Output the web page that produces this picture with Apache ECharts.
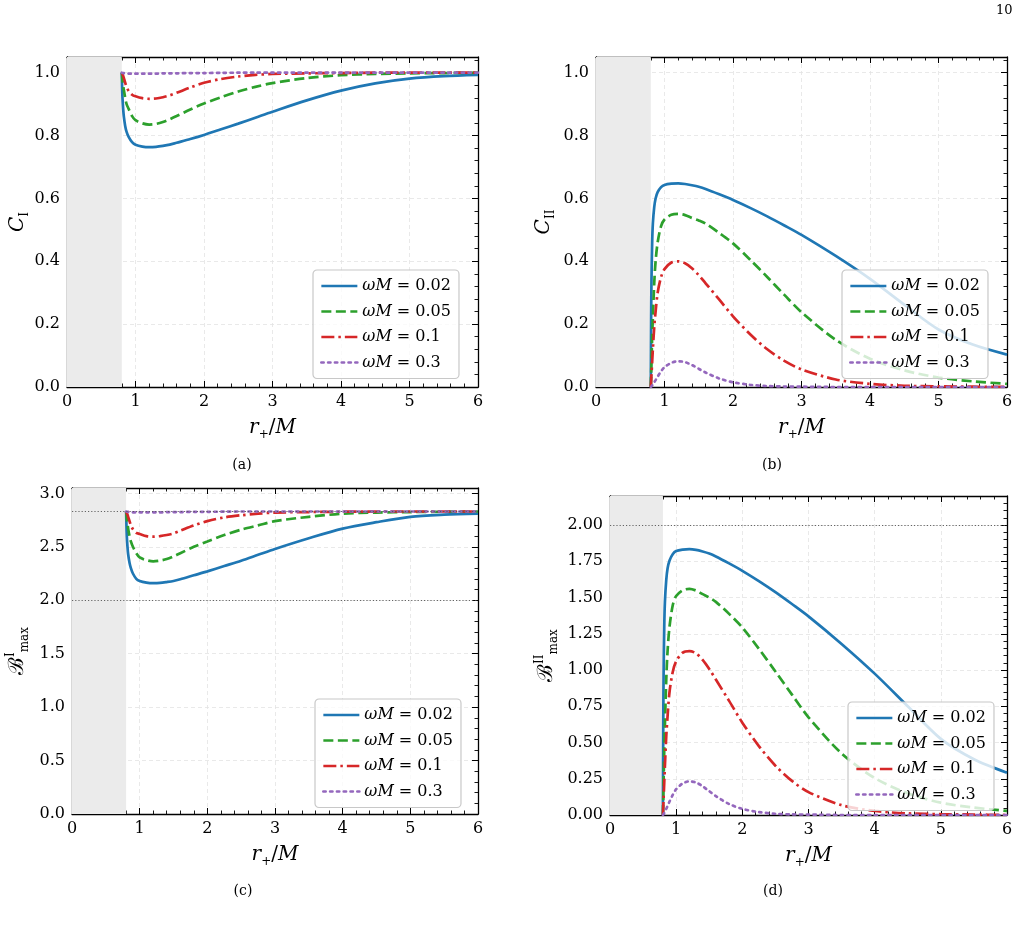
<!DOCTYPE html>
<html><head><meta charset="utf-8">
<script src="https://cdn.jsdelivr.net/npm/echarts@6/dist/echarts.min.js"></script>
<style>html,body{margin:0;padding:0;background:#fff}#c{width:1023px;height:928px}</style>
</head><body><div id="c"></div>
<script>
// ---- data ----
const XS = [0.8,0.805,0.81,0.82,0.83,0.85,0.87,0.9,0.95,1.0,1.1,1.2,1.3,1.4,1.5,1.6,1.8,2.0,2.25,2.5,2.75,3.0,3.5,4.0,4.5,5.0,5.5,6.0];
const SERIES_NAMES = ['0.02','0.05','0.1','0.3'];

// (a) C_I
const CI_002 = [1.0,0.95,0.92,0.885,0.86,0.83,0.812,0.796,0.779,0.771,0.765,0.763,0.764,0.767,0.771,0.777,0.789,0.802,0.82,0.838,0.857,0.876,0.912,0.943,0.966,0.981,0.989,0.993];
const CI_005 = [1.0,0.99,0.975,0.96,0.945,0.92,0.9,0.885,0.862,0.849,0.839,0.835,0.837,0.843,0.852,0.862,0.883,0.902,0.922,0.94,0.955,0.967,0.983,0.992,0.996,0.998,0.999,1.0];
const CI_01  = [1.0,0.998,0.995,0.99,0.983,0.968,0.955,0.942,0.93,0.925,0.919,0.917,0.918,0.922,0.928,0.936,0.953,0.968,0.98,0.988,0.993,0.996,0.998,0.999,1.0,1.0,1.0,1.0];
const CI_03  = [1.0,1.0,0.9995,0.999,0.999,0.998,0.998,0.997,0.997,0.997,0.997,0.997,0.997,0.998,0.998,0.998,0.999,0.999,0.9995,1.0,1.0,1.0,1.0,1.0,1.0,1.0,1.0,1.0];

// (b) C_II
const CII_002 = [0,0.22,0.34,0.46,0.52,0.572,0.6,0.62,0.636,0.643,0.647,0.648,0.646,0.642,0.637,0.63,0.613,0.595,0.57,0.543,0.514,0.484,0.417,0.344,0.262,0.183,0.135,0.103];
const CII_005 = [0,0.04,0.08,0.16,0.22,0.33,0.4,0.46,0.512,0.533,0.548,0.551,0.547,0.538,0.53,0.52,0.49,0.457,0.405,0.35,0.293,0.238,0.15,0.09,0.053,0.03,0.018,0.01];
const CII_01  = [0,0.02,0.04,0.08,0.12,0.19,0.24,0.3,0.35,0.375,0.396,0.4,0.394,0.378,0.356,0.33,0.278,0.225,0.168,0.12,0.083,0.056,0.024,0.01,0.004,0.002,0.001,0];
const CII_03  = [0,0.001,0.002,0.005,0.008,0.015,0.022,0.033,0.05,0.063,0.077,0.082,0.079,0.07,0.058,0.046,0.027,0.015,0.007,0.003,0.0015,0.001,0,0,0,0,0,0];

// (c) B^I_max
const BI_002 = [2.83,2.69,2.6,2.5,2.43,2.35,2.3,2.25,2.2,2.18,2.165,2.16,2.162,2.17,2.18,2.196,2.233,2.27,2.32,2.37,2.425,2.48,2.58,2.67,2.73,2.78,2.8,2.81];
const BI_005 = [2.83,2.8,2.76,2.72,2.67,2.6,2.55,2.5,2.44,2.4,2.375,2.363,2.37,2.385,2.41,2.44,2.5,2.55,2.61,2.66,2.7,2.74,2.78,2.81,2.82,2.825,2.828,2.83];
const BI_01  = [2.83,2.825,2.815,2.8,2.78,2.74,2.7,2.665,2.63,2.62,2.6,2.595,2.6,2.61,2.625,2.65,2.7,2.74,2.775,2.795,2.81,2.82,2.825,2.828,2.83,2.83,2.83,2.83];
const BI_03  = [2.83,2.83,2.829,2.827,2.827,2.825,2.825,2.822,2.822,2.822,2.822,2.822,2.822,2.825,2.825,2.825,2.827,2.827,2.829,2.83,2.83,2.83,2.83,2.83,2.83,2.83,2.83,2.83];

// (d) B^II_max
const BII_002 = [0,0.62,0.96,1.3,1.47,1.62,1.7,1.755,1.8,1.82,1.83,1.833,1.828,1.817,1.803,1.783,1.735,1.684,1.613,1.537,1.455,1.37,1.18,0.975,0.75,0.525,0.385,0.292];
const BII_005 = [0,0.11,0.23,0.45,0.62,0.93,1.13,1.3,1.45,1.51,1.55,1.56,1.548,1.523,1.5,1.47,1.387,1.293,1.146,0.99,0.83,0.674,0.425,0.255,0.15,0.085,0.051,0.028];
const BII_01  = [0,0.057,0.113,0.226,0.34,0.54,0.68,0.85,0.99,1.06,1.12,1.13,1.115,1.07,1.007,0.934,0.787,0.637,0.475,0.34,0.235,0.158,0.068,0.028,0.011,0.006,0.003,0];
const BII_03  = [0,0.003,0.006,0.014,0.023,0.042,0.062,0.093,0.14,0.178,0.218,0.232,0.224,0.198,0.164,0.13,0.076,0.042,0.02,0.0085,0.004,0.003,0,0,0,0,0,0];

// reference lines and excluded region
const REF_C = [2.0, 2.828];
const REF_D = [2.0];
const SHADE = [0, 0.8];

const X_TICKS = [0,1,2,3,4,5,6];
const Y_A = {min:0, max:1.05, interval:0.2, dec:1};
const Y_C = {min:0, max:3.05, interval:0.5, dec:1};
const Y_D = {min:0, max:2.2, interval:0.25, dec:2};

// ---- styling ----
const FONT = 'DejaVu Serif';
const COLORS = ['#1f77b4','#2ca02c','#d62728','#9467bd'];
const DASH = ['solid',[10,4.5],[13,4,2.5,4],[2.3,4.5]];
const CAP = ['butt','butt','butt','round'];

const panels = [
  {grid:{left:67,top:57,width:411,height:330}, y:Y_A, data:[CI_002,CI_005,CI_01,CI_03],
   yname:'{i|C}{s|I}', ygap:36, legend:{left:313,top:270}, refs:[]},
  {grid:{left:596,top:57,width:411,height:330}, y:Y_A, data:[CII_002,CII_005,CII_01,CII_03],
   yname:'{i|C}{s|II}', ygap:39, legend:{left:842,top:270}, refs:[]},
  {grid:{left:72,top:488,width:406,height:326}, y:Y_C, data:[BI_002,BI_005,BI_01,BI_03],
   yname:'{b|ℬ}{p|I}{s|max}', ygap:41, legend:{left:315,top:699}, refs:REF_C},
  {grid:{left:610,top:496,width:397,height:319}, y:Y_D, data:[BII_002,BII_005,BII_01,BII_03],
   yname:'{b|ℬ}{p|II}{s|max}', ygap:50, legend:{left:848,top:702}, refs:REF_D},
];

const nameRich = {
  i:{fontFamily:FONT, fontStyle:'italic', fontSize:20, color:'#000', lineHeight:26},
  b:{fontFamily:FONT, fontSize:21, color:'#000', lineHeight:26},
  s:{fontFamily:FONT, fontSize:12, color:'#000', verticalAlign:'bottom', lineHeight:26},
  p:{fontFamily:FONT, fontSize:12, color:'#000', verticalAlign:'top', lineHeight:26},
  n:{fontFamily:FONT, fontSize:20, color:'#000', lineHeight:26}
};

const grids=[], xAxes=[], yAxes=[], series=[], legends=[];
const tickBase = {inside:true, length:6, lineStyle:{color:'#000', width:1}};
const minorBase = {show:true, splitNumber:5, length:3.5, lineStyle:{color:'#000', width:0.9}};
const lineBase = {show:true, onZero:false, lineStyle:{color:'#000', width:1.3}};
const splitBase = {show:true, lineStyle:{color:'#e3e3e3', type:[4,3], width:0.8}};

panels.forEach((p, gi) => {
  grids.push(Object.assign({containLabel:false}, p.grid));
  xAxes.push({type:'value', gridIndex:gi, min:X_TICKS[0], max:X_TICKS[X_TICKS.length-1], interval:1,
    axisLine:lineBase, axisTick:tickBase, minorTick:minorBase,
    axisLabel:{fontFamily:FONT, fontSize:16, color:'#000', margin:7},
    splitLine:splitBase,
    name:'{i|r}{s|+}{n|/}{i|M}', nameLocation:'middle', nameGap:28,
    nameTextStyle:{rich:nameRich}});
  xAxes.push({type:'value', gridIndex:gi, position:'top', min:X_TICKS[0], max:X_TICKS[X_TICKS.length-1], interval:1,
    axisLine:lineBase, axisTick:tickBase, minorTick:minorBase, axisLabel:{show:false}, splitLine:{show:false}});
  const y = p.y;
  yAxes.push({type:'value', gridIndex:gi, min:y.min, max:y.max, interval:y.interval,
    axisLine:lineBase, axisTick:tickBase, minorTick:minorBase,
    axisLabel:{fontFamily:FONT, fontSize:16, color:'#000', margin:7, showMaxLabel:false,
      formatter:v => v.toFixed(y.dec)},
    splitLine:splitBase,
    name:p.yname, nameLocation:'middle', nameRotate:90, nameGap:p.ygap,
    nameTextStyle:{rich:nameRich}});
  yAxes.push({type:'value', gridIndex:gi, position:'right', min:y.min, max:y.max, interval:y.interval,
    axisLine:lineBase, axisTick:tickBase, minorTick:minorBase, axisLabel:{show:false}, splitLine:{show:false}});

  const xi = gi*2, yi = gi*2;
  series.push({type:'line', name:'_shade'+gi, xAxisIndex:xi, yAxisIndex:yi, data:[], z:1, silent:true,
    markArea:{silent:true, itemStyle:{color:'#ebebeb', opacity:1}, data:[[{xAxis:SHADE[0]},{xAxis:SHADE[1]}]]}});
  if (p.refs.length) {
    series.push({type:'line', name:'_ref'+gi, xAxisIndex:xi, yAxisIndex:yi, data:[], z:1.5, silent:true,
      markLine:{silent:true, symbol:['none','none'], label:{show:false},
        lineStyle:{color:'#555', type:[1.2,2], width:0.9},
        data:p.refs.map(v => ({yAxis:v}))}});
  }
  p.data.forEach((arr, si) => {
    series.push({type:'line', name:'ωM = '+SERIES_NAMES[si], xAxisIndex:xi, yAxisIndex:yi,
      data:XS.map((x,k)=>[x, arr[k]]), showSymbol:false, symbol:'none', z:2+si*0.1,
      smooth:0.3, animation:false,
      lineStyle:{color:COLORS[si], width:2.7, type:DASH[si], cap:CAP[si]},
      itemStyle:{color:COLORS[si]}});
  });
  legends.push({left:p.legend.left, top:p.legend.top, orient:'vertical',
    data:SERIES_NAMES.map(n=>'ωM = '+n), itemWidth:36, itemHeight:14, itemGap:7.5, itemTextGap:14,
    padding:[7,8,7,7], backgroundColor:'rgba(255,255,255,0.8)', borderColor:'#c8c8c8', borderWidth:1.2, borderRadius:4,
    selectedMode:false, z:10,
    itemStyle:{opacity:0, color:'transparent', borderWidth:0},
    lineStyle:{width:2.7},
    formatter: n => '{i|ωM} = ' + n.split('= ')[1],
    textStyle:{fontFamily:FONT, fontSize:16, color:'#000', lineHeight:18,
      rich:{i:{fontFamily:FONT, fontStyle:'italic', fontSize:16, color:'#000'}}}});
});

const chart = echarts.init(document.getElementById('c'), null, {renderer:'canvas'});
chart.setOption({
  animation:false,
  grid:grids, xAxis:xAxes, yAxis:yAxes, series:series, legend:legends,
  graphic:[
    {type:'text', left:996, top:4, style:{text:'10', fontFamily:FONT, fontSize:13, fill:'#000'}},
    {type:'text', x:242, y:465, style:{text:'(a)', fontFamily:FONT, fontSize:14, fill:'#000', align:'center', verticalAlign:'middle'}},
    {type:'text', x:772, y:465, style:{text:'(b)', fontFamily:FONT, fontSize:14, fill:'#000', align:'center', verticalAlign:'middle'}},
    {type:'text', x:243, y:891, style:{text:'(c)', fontFamily:FONT, fontSize:14, fill:'#000', align:'center', verticalAlign:'middle'}},
    {type:'text', x:773, y:891, style:{text:'(d)', fontFamily:FONT, fontSize:14, fill:'#000', align:'center', verticalAlign:'middle'}}
  ]
});
</script></body></html>
